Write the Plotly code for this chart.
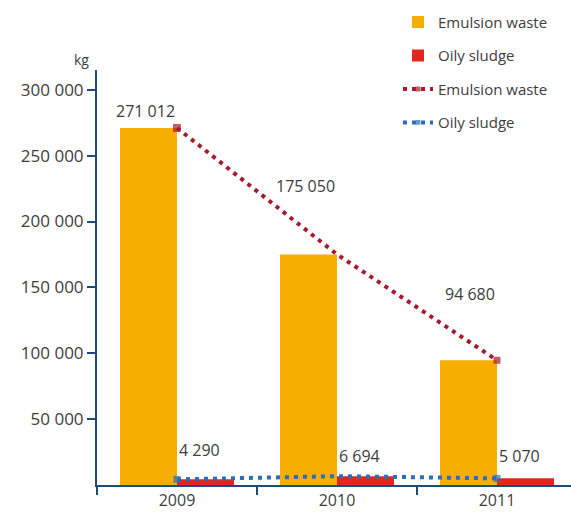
import plotly.graph_objects as go

# ---- data ----
years = ["2009", "2010", "2011"]
emulsion_waste = [271012, 175050, 94680]
oily_sludge = [4290, 6694, 5070]
emulsion_labels = ["271 012", "175 050", "94 680"]
oily_labels = ["4 290", "6 694", "5 070"]
y_tick_values = [50000, 100000, 150000, 200000, 250000, 300000]
y_tick_labels = ["50 000", "100 000", "150 000", "200 000", "250 000", "300 000"]
unit_label = "kg"

# ---- styles ----
FONT = "Open Sans"
TEXT = "#3d3d3d"
AXIS = "#1e4b7a"
C_EMUL = "#f8ae00"
C_OILY = "#e1261c"
C_EMUL_LINE = "#a6192e"
C_OILY_LINE = "#2a6ebb"
emul_label_shift = [4, 55, 53]
oily_label_shift = [16, 7, 9]

fig = go.Figure()
fig.add_trace(go.Bar(x=years, y=emulsion_waste, name="Emulsion waste",
                     marker=dict(color=C_EMUL, line=dict(width=0)),
                     legendgroup="a"))
fig.add_trace(go.Bar(x=years, y=oily_sludge, name="Oily sludge",
                     marker=dict(color=C_OILY, line=dict(width=0)),
                     legendgroup="b"))
fig.add_trace(go.Scatter(x=years, y=emulsion_waste, name="Emulsion waste",
                         mode="lines+markers",
                         line=dict(color=C_EMUL_LINE, width=4, dash="4px,5px"),
                         marker=dict(symbol="square", size=[8, 0, 7], color=C_EMUL_LINE,
                                     line=dict(width=0)),
                         legendgroup="c"))
fig.add_trace(go.Scatter(x=years, y=oily_sludge, name="Oily sludge",
                         mode="lines+markers",
                         line=dict(color=C_OILY_LINE, width=4, dash="4px,5px"),
                         marker=dict(symbol="square", size=[7, 0, 7], color=C_OILY_LINE,
                                     line=dict(width=0)),
                         legendgroup="d"))

annotations = []
for i, yr in enumerate(years):
    annotations.append(dict(x=i, y=emulsion_waste[i], xref="x", yref="y",
                            text=emulsion_labels[i],
                            xanchor="right", yanchor="bottom", yshift=emul_label_shift[i],
                            showarrow=False, font=dict(family=FONT, size=16, color=TEXT)))
    annotations.append(dict(x=i, y=oily_sludge[i], xref="x", yref="y",
                            text=oily_labels[i],
                            xanchor="left", yanchor="bottom", yshift=oily_label_shift[i],
                            showarrow=False, font=dict(family=FONT, size=16, color=TEXT)))
annotations.append(dict(x=-0.053, y=1.053, xref="paper", yref="paper", text=unit_label,
                        showarrow=False, font=dict(family=FONT, size=14, color=TEXT)))

fig.update_layout(
    width=571, height=516,
    margin=dict(l=97, r=0, t=70, b=31),
    paper_bgcolor="white", plot_bgcolor="white",
    barmode="group", bargap=0.2875, bargroupgap=0,
    font=dict(family=FONT, size=16, color=TEXT),
    showlegend=True,
    legend=dict(x=0.635, y=1.155, xanchor="left", yanchor="top",
                font=dict(family=FONT, size=15, color=TEXT),
                tracegroupgap=11, bgcolor="rgba(0,0,0,0)"),
    annotations=annotations,
    xaxis=dict(type="category", range=[-0.5, 2.4625], showline=True, linecolor=AXIS,
               linewidth=2, ticks="outside", tickson="boundaries", ticklen=8,
               tickcolor=AXIS, tickwidth=2, showgrid=False, zeroline=False,
               tickfont=dict(family=FONT, size=16, color=TEXT)),
    yaxis=dict(range=[0, 315000], showline=True, linecolor=AXIS, linewidth=2,
               ticks="outside", ticklen=8, tickcolor=AXIS, tickwidth=2,
               tickvals=y_tick_values, ticktext=y_tick_labels, showgrid=False,
               zeroline=False, tickfont=dict(family=FONT, size=17, color=TEXT)),
)

fig.write_html("out.html")
